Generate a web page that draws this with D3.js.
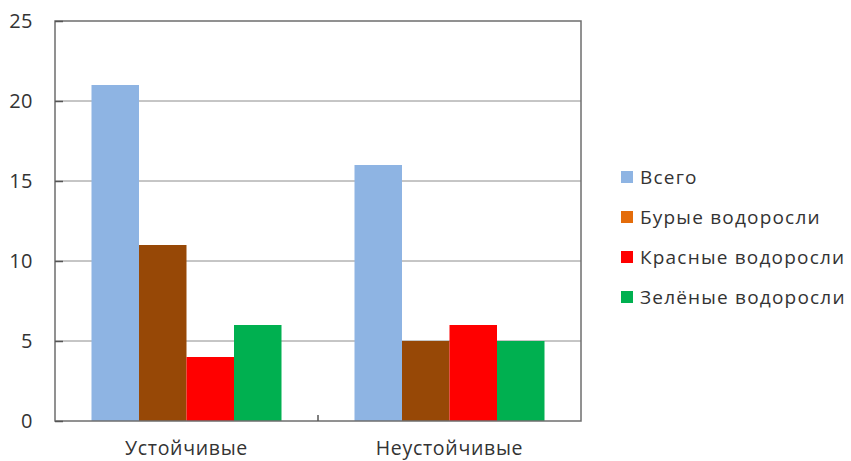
<!DOCTYPE html>
<html lang="ru">
<head>
    <meta charset="UTF-8">
    <title>Водоросли</title>
    <script src="https://d3js.org/d3.v7.min.js"></script>
    <style>
        body { margin: 0; background: #fff; }
        svg { display: block; }
        text { font-family: "Open Sans", "DejaVu Sans", sans-serif; fill: #333; }
        .grid line { stroke: #8c8c8c; stroke-width: 1px; }
        .frame { fill: none; stroke: #6e6e6e; stroke-width: 1.5px; }
    </style>
</head>
<body>
    <svg width="851" height="461"></svg>
    <script>
        // данные
        const categories = ["Устойчивые", "Неустойчивые"];
        const seriesNames = ["Всего", "Бурые водоросли", "Красные водоросли", "Зелёные водоросли"];
        const seriesValues = [
            [21, 16],  // Всего
            [11, 5],   // Бурые
            [4, 6],    // Красные
            [6, 5]     // Зелёные
        ];
        const yTicks = [0, 5, 10, 15, 20, 25];
        const barColors = ["#8eb4e3", "#974806", "#ff0000", "#00b050"];
        const legendColors = ["#8eb4e3", "#e46c0a", "#ff0000", "#00b050"];

        const svg = d3.select("svg");
        const plotL = 55, plotR = 581, plotT = 21, plotB = 421;

        const x0 = d3.scaleBand().domain(categories).range([plotL, plotR]).padding(0);
        const groupPad = 36.5;
        const x1 = d3.scaleBand().domain(d3.range(seriesNames.length))
            .range([groupPad, x0.bandwidth() - groupPad]).padding(0);
        const y = d3.scaleLinear().domain([0, 25]).range([plotB, plotT]);

        // сетка
        svg.append("g").attr("class", "grid")
            .selectAll("line")
            .data(yTicks.filter(d => d > 0 && d < 25))
            .enter().append("line")
            .attr("x1", plotL).attr("x2", plotR)
            .attr("y1", d => y(d)).attr("y2", d => y(d));

        // столбцы
        const rows = [];
        seriesValues.forEach((vals, s) => vals.forEach((v, c) => rows.push({ s, c, v })));
        svg.append("g").selectAll("rect")
            .data(rows)
            .enter().append("rect")
            .attr("x", d => x0(categories[d.c]) + x1(d.s))
            .attr("width", x1.bandwidth())
            .attr("y", d => y(d.v))
            .attr("height", d => y(0) - y(d.v))
            .attr("fill", d => barColors[d.s]);

        // рамка
        svg.append("rect").attr("class", "frame")
            .attr("x", plotL).attr("y", plotT)
            .attr("width", plotR - plotL).attr("height", plotB - plotT);

        // ось Y
        const yAxis = d3.axisLeft(y).tickValues(yTicks).tickSize(-8).tickPadding(22);
        const ya = svg.append("g").attr("transform", `translate(${plotL},0)`).call(yAxis);
        ya.select(".domain").remove();
        ya.selectAll(".tick line").attr("stroke", "#555").attr("stroke-width", 1.5);
        ya.selectAll(".tick text").style("font-size", "20px").style("letter-spacing", "0.5px").attr("fill", "#333");

        // ось X
        const xAxis = d3.axisBottom(x0).tickSize(0).tickPadding(20);
        const xa = svg.append("g").attr("transform", `translate(0,${plotB})`).call(xAxis);
        xa.select(".domain").remove();
        xa.selectAll(".tick text").style("font-size", "19.5px").style("letter-spacing", "0.7px").attr("fill", "#333");
        svg.append("line")
            .attr("x1", x0("Неустойчивые")).attr("x2", x0("Неустойчивые"))
            .attr("y1", plotB).attr("y2", plotB - 6)
            .attr("stroke", "#555").attr("stroke-width", 1.5);

        // легенда
        const legend = svg.append("g").attr("transform", "translate(621,177)");
        const item = legend.selectAll("g")
            .data(seriesNames)
            .enter().append("g")
            .attr("transform", (d, i) => `translate(0,${i * 40})`);
        item.append("rect")
            .attr("x", 0).attr("y", -6).attr("width", 12).attr("height", 12)
            .attr("fill", (d, i) => legendColors[i]);
        item.append("text")
            .attr("x", 19).attr("dy", "0.35em")
            .style("font-size", "19px")
            .style("letter-spacing", "1.2px")
            .text(d => d);
    </script>
</body>
</html>
